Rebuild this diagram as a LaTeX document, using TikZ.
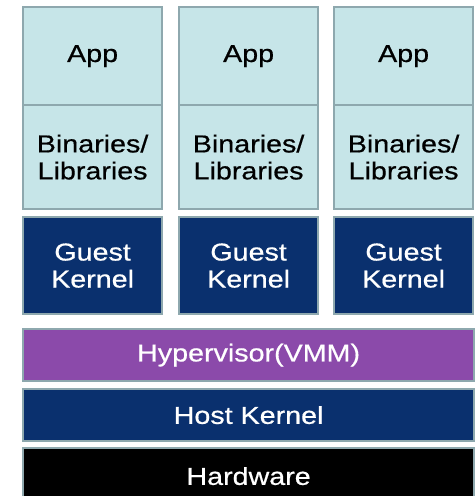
\documentclass[tikz,border=0pt]{standalone}
\usepackage{fontspec}
\setmainfont{Liberation Sans}[FakeStretch=1.17,FakeBold=0.6]
\definecolor{paleteal}{RGB}{198,229,232}
\definecolor{edgegray}{RGB}{142,168,174}
\definecolor{navy}{RGB}{10,48,110}
\definecolor{violet}{RGB}{139,74,170}
\begin{document}
\begin{tikzpicture}[x=1pt,y=-1pt,
  layer/.style={draw=edgegray, line width=2.2pt, anchor=north west, inner sep=0pt,
    align=center, font=\fontsize{24.5}{27}\selectfont},
  appbox/.style={layer, fill=paleteal, text=black, minimum width=139pt},
  darkbox/.style={layer, fill=navy, text=white},
  vmmbox/.style={layer, fill=violet, text=white},
  hwbox/.style={layer, fill=black, text=white}]
\useasboundingbox (0,0) rectangle (475,496);
\begin{scope}
\clip (0,0) rectangle (475,496);
% three virtual machines
\foreach \x/\n in {22/1,178/2,333/3}{
  \node[appbox, minimum height=98pt] (app\n) at (\x,6) {App};
  \node[appbox, minimum height=104pt] (bin\n) at (\x,104) {Binaries/\\Libraries};
  \node[darkbox, minimum width=139pt, minimum height=97pt] (guest\n) at (\x,216) {Guest\\Kernel};
}
% shared layers
\node[vmmbox, minimum width=451pt, minimum height=52pt] (vmm) at (22,328) {Hypervisor(VMM)};
\node[darkbox, minimum width=451pt, minimum height=52pt] (host) at (22,388) {Host Kernel};
\node[hwbox, minimum width=451pt, minimum height=56pt] (hw) at (22,447) {Hardware};
\end{scope}
\end{tikzpicture}
\end{document}
